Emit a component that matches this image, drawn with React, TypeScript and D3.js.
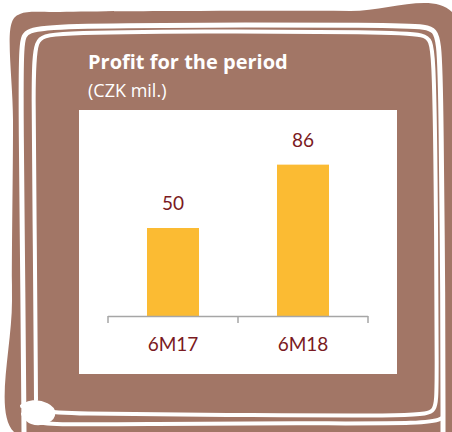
import React, { useEffect, useRef } from 'react';
import * as d3 from 'd3';

// chart data
const periods: string[] = ['6M17', '6M18'];
const profits: number[] = [50, 86];
const yMax = 100;

const BROWN = '#a27666';
const BAR = '#fbbb33';
const LABEL = '#7a1a22';
const AXIS = '#a6a6a6';
const FONT = 'Lato, "Open Sans", sans-serif';
const TITLE_FONT = '"Open Sans", Lato, sans-serif';

function App() {
    const svgRef = useRef<SVGSVGElement>(null);

    useEffect(() => {
        const width = 452;
        const height = 432;

        const svg = d3.select(svgRef.current)
            .attr('width', width)
            .attr('height', height);
        svg.selectAll('*').remove();

        // brown hand-drawn card
        const blob = d3.line().curve(d3.curveCatmullRomClosed);
        svg.append('path')
            .attr('d', blob([
                [12, 22], [20, 14], [60, 12], [200, 11], [350, 11], [452, 12],
                [452, 200], [452, 432], [300, 432], [100, 432], [14, 432],
                [12, 300], [13, 120]
            ]))
            .attr('fill', BROWN);

        // white sketchy frame lines
        const sketch = d3.line().curve(d3.curveBasis);
        const strokes: [number, number][][] = [
            [[24, 432], [23, 300], [21, 120], [21, 40], [26, 30], [60, 26], [200, 25], [380, 25], [430, 26], [440, 34], [441, 120], [443, 300], [443, 432]],
            [[36, 400], [35, 250], [33, 80], [35, 38], [50, 33], [200, 31], [380, 32], [428, 34], [434, 44], [436, 200], [437, 390], [436, 412], [420, 416], [250, 415], [60, 414], [38, 410]],
            [[30, 420], [40, 425], [150, 424], [300, 423], [430, 424], [442, 418]],
            [[22, 406], [32, 401], [48, 404], [56, 413], [48, 423], [30, 424], [23, 414]]
        ];
        strokes.forEach((s, i) => {
            svg.append('path')
                .attr('d', sketch(s))
                .attr('fill', i === 3 ? '#fff' : 'none')
                .attr('stroke', '#fff')
                .attr('stroke-width', i === 0 ? 5 : 4)
                .attr('stroke-linecap', 'round');
        });

        // titles
        svg.append('text')
            .attr('x', 88)
            .attr('y', 69)
            .attr('fill', '#fff')
            .attr('font-family', TITLE_FONT)
            .attr('font-weight', 'bold')
            .attr('font-size', 20)
            .text('Profit for the period');
        svg.append('text')
            .attr('x', 88)
            .attr('y', 97)
            .attr('fill', '#fff')
            .attr('font-family', TITLE_FONT)
            .attr('font-size', 18)
            .text('(CZK mil.)');

        // white plot panel
        svg.append('rect')
            .attr('x', 79)
            .attr('y', 110)
            .attr('width', 318)
            .attr('height', 264)
            .attr('fill', '#fff');

        // scales
        const xScale = d3.scaleBand()
            .domain(periods)
            .range([108, 368])
            .paddingInner(0.6)
            .paddingOuter(0.3);

        const yScale = d3.scaleLinear()
            .domain([0, yMax])
            .range([316, 140]);

        const rows = periods.map((p, i) => ({ period: p, value: profits[i] }));

        // bars
        svg.selectAll('.bar')
            .data(rows)
            .enter()
            .append('rect')
            .attr('class', 'bar')
            .attr('x', d => xScale(d.period)!)
            .attr('y', d => yScale(d.value))
            .attr('width', xScale.bandwidth())
            .attr('height', d => yScale(0) - yScale(d.value))
            .attr('fill', BAR);

        // value labels
        svg.selectAll('.label')
            .data(rows)
            .enter()
            .append('text')
            .attr('class', 'label')
            .attr('x', d => xScale(d.period)! + xScale.bandwidth() / 2)
            .attr('y', d => yScale(d.value) - 18)
            .attr('text-anchor', 'middle')
            .attr('fill', LABEL)
            .attr('font-family', FONT)
            .attr('font-size', 19)
            .text(d => d.value);

        // x axis with category separators
        const axis = svg.append('g');
        const step = xScale.step();
        const left = 108;
        const edges = d3.range(periods.length + 1).map(i => left + i * step);
        axis.append('line')
            .attr('x1', edges[0])
            .attr('x2', edges[edges.length - 1])
            .attr('y1', yScale(0) + 0.5)
            .attr('y2', yScale(0) + 0.5)
            .attr('stroke', AXIS)
            .attr('stroke-width', 1.5);
        axis.selectAll('.tick')
            .data(edges)
            .enter()
            .append('line')
            .attr('x1', d => d)
            .attr('x2', d => d)
            .attr('y1', yScale(0))
            .attr('y2', yScale(0) + 7)
            .attr('stroke', AXIS)
            .attr('stroke-width', 1.5);

        axis.selectAll('.cat')
            .data(periods)
            .enter()
            .append('text')
            .attr('x', d => xScale(d)! + xScale.bandwidth() / 2)
            .attr('y', 351)
            .attr('text-anchor', 'middle')
            .attr('fill', LABEL)
            .attr('font-family', FONT)
            .attr('font-size', 19)
            .text(d => d);
    }, []);

    return (
        <div style={{ position: 'fixed', left: 0, top: 0, background: '#fff' }}>
            <svg ref={svgRef} style={{ display: 'block' }}></svg>
        </div>
    );
}

export default App;
